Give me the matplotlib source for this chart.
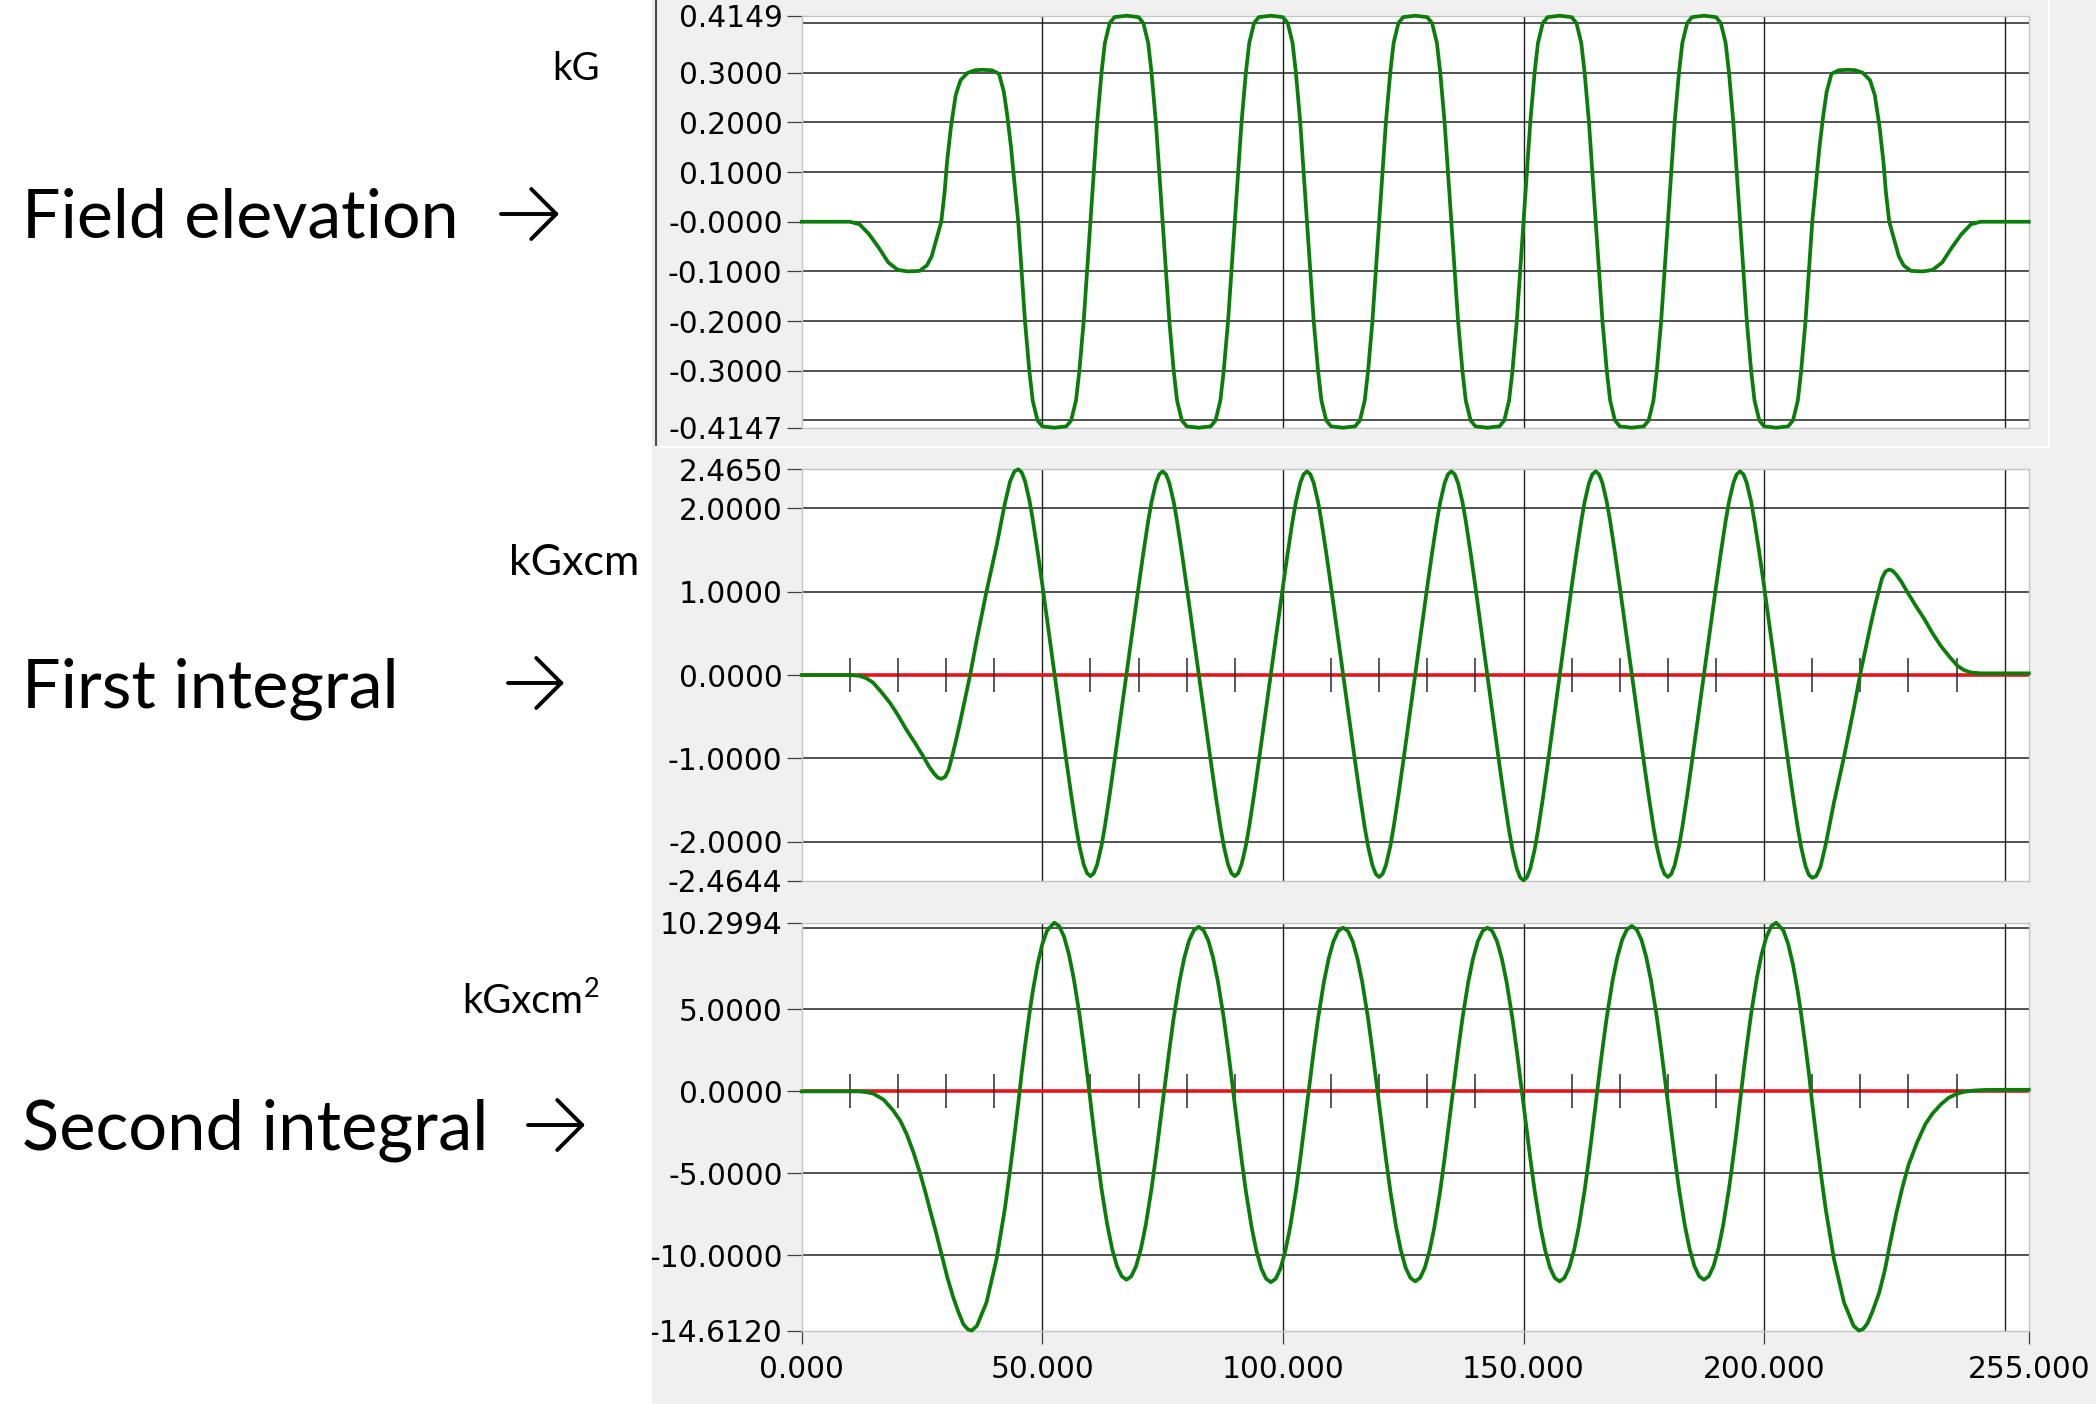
import matplotlib
matplotlib.use('Agg')
import numpy as np
import matplotlib.pyplot as plt
from matplotlib.patches import Rectangle, FancyArrowPatch
from matplotlib.lines import Line2D

# ---- data (x in cm) ----
# field elevation, kG
field_x = [
    0, 10, 12, 14, 16, 18, 20, 22, 24.5, 26, 27, 28,
    29, 29.7, 30.2, 31, 32, 33, 34.5, 36, 37.5, 39.5, 41, 42, 42.7, 43.5, 44.2,
    45, 45.7, 46.4, 47.3, 48, 49, 50, 52.5, 55, 56, 57, 57.7, 58.6, 59.3,
    60, 60.7, 61.4, 62.3, 63, 64, 65, 67.5, 70, 71, 72, 72.7, 73.6, 74.3,
    75, 75.7, 76.4, 77.3, 78, 79, 80, 82.5, 85, 86, 87, 87.7, 88.6, 89.3,
    90, 90.7, 91.4, 92.3, 93, 94, 95, 97.5, 100, 101, 102, 102.7, 103.6, 104.3,
    105, 105.7, 106.4, 107.3, 108, 109, 110, 112.5, 115, 116, 117, 117.7, 118.6, 119.3,
    120, 120.7, 121.4, 122.3, 123, 124, 125, 127.5, 130, 131, 132, 132.7, 133.6, 134.3,
    135, 135.7, 136.4, 137.3, 138, 139, 140, 142.5, 145, 146, 147, 147.7, 148.6, 149.3,
    150, 150.7, 151.4, 152.3, 153, 154, 155, 157.5, 160, 161, 162, 162.7, 163.6, 164.3,
    165, 165.7, 166.4, 167.3, 168, 169, 170, 172.5, 175, 176, 177, 177.7, 178.6, 179.3,
    180, 180.7, 181.4, 182.3, 183, 184, 185, 187.5, 190, 191, 192, 192.7, 193.6, 194.3,
    195, 195.7, 196.4, 197.3, 198, 199, 200, 202.5, 205, 206, 207, 207.7, 208.6, 209.3,
    210, 210.8, 211.5, 212.3, 213, 214, 215.5, 217.5, 219, 220.5, 222, 223, 224, 224.8, 225.3,
    226, 227, 228, 229, 230.5, 233, 235, 237, 239, 241, 243, 245, 255]
field_kg = [
    0, 0, -0.005, -0.025, -0.052, -0.082, -0.097, -0.1, -0.099, -0.088, -0.07, -0.035,
    0, 0.06, 0.12, 0.19, 0.255, 0.285, 0.3, 0.305, 0.306, 0.305, 0.298, 0.262, 0.215, 0.15, 0.08,
    0, -0.1, -0.2, -0.3, -0.36, -0.4, -0.412, -0.4147, -0.412, -0.4, -0.36, -0.3, -0.2, -0.1,
    0, 0.1, 0.2, 0.3, 0.36, 0.4, 0.412, 0.4149, 0.412, 0.4, 0.36, 0.3, 0.2, 0.1,
    0, -0.1, -0.2, -0.3, -0.36, -0.4, -0.412, -0.4147, -0.412, -0.4, -0.36, -0.3, -0.2, -0.1,
    0, 0.1, 0.2, 0.3, 0.36, 0.4, 0.412, 0.4149, 0.412, 0.4, 0.36, 0.3, 0.2, 0.1,
    0, -0.1, -0.2, -0.3, -0.36, -0.4, -0.412, -0.4147, -0.412, -0.4, -0.36, -0.3, -0.2, -0.1,
    0, 0.1, 0.2, 0.3, 0.36, 0.4, 0.412, 0.4149, 0.412, 0.4, 0.36, 0.3, 0.2, 0.1,
    0, -0.1, -0.2, -0.3, -0.36, -0.4, -0.412, -0.4147, -0.412, -0.4, -0.36, -0.3, -0.2, -0.1,
    0, 0.1, 0.2, 0.3, 0.36, 0.4, 0.412, 0.4149, 0.412, 0.4, 0.36, 0.3, 0.2, 0.1,
    0, -0.1, -0.2, -0.3, -0.36, -0.4, -0.412, -0.4147, -0.412, -0.4, -0.36, -0.3, -0.2, -0.1,
    0, 0.1, 0.2, 0.3, 0.36, 0.4, 0.412, 0.4149, 0.412, 0.4, 0.36, 0.3, 0.2, 0.1,
    0, -0.1, -0.2, -0.3, -0.36, -0.4, -0.412, -0.4147, -0.412, -0.4, -0.36, -0.3, -0.2, -0.1,
    0, 0.08, 0.15, 0.215, 0.262, 0.298, 0.305, 0.306, 0.305, 0.3, 0.285, 0.255, 0.19, 0.12, 0.06,
    0, -0.035, -0.07, -0.088, -0.099, -0.1, -0.097, -0.082, -0.052, -0.025, -0.005, 0, 0]

# first integral, kG x cm
int1_x = [
    0, 10, 12, 13.5, 14.8, 16.5, 18.3, 20, 21.7, 23.5, 25.2, 26.5, 27.5, 28.3,
    29, 29.8, 30.5, 31.1, 32, 32.9, 34, 35, 36.4, 38.4, 40.5, 42.2, 43.3, 44.2,
    45, 45.7, 46.4, 47.3, 48, 49, 50, 52.5, 55, 56, 57, 57.7, 58.6, 59.3,
    60, 60.7, 61.4, 62.3, 63, 64, 65, 67.5, 70, 71, 72, 72.7, 73.6, 74.3,
    75, 75.7, 76.4, 77.3, 78, 79, 80, 82.5, 85, 86, 87, 87.7, 88.6, 89.3,
    90, 90.7, 91.4, 92.3, 93, 94, 95, 97.5, 100, 101, 102, 102.7, 103.6, 104.3,
    105, 105.7, 106.4, 107.3, 108, 109, 110, 112.5, 115, 116, 117, 117.7, 118.6, 119.3,
    120, 120.7, 121.4, 122.3, 123, 124, 125, 127.5, 130, 131, 132, 132.7, 133.6, 134.3,
    135, 135.7, 136.4, 137.3, 138, 139, 140, 142.5, 145, 146, 147, 147.7, 148.6, 149.3,
    150, 150.7, 151.4, 152.3, 153, 154, 155, 157.5, 160, 161, 162, 162.7, 163.6, 164.3,
    165, 165.7, 166.4, 167.3, 168, 169, 170, 172.5, 175, 176, 177, 177.7, 178.6, 179.3,
    180, 180.7, 181.4, 182.3, 183, 184, 185, 187.5, 190, 191, 192, 192.7, 193.6, 194.3,
    195, 195.7, 196.4, 197.3, 198, 199, 200, 202.5, 205, 206, 207, 207.7, 208.6, 209.3,
    210, 210.8, 211.7, 212.8, 214.5, 216.6, 218.6, 220, 221, 222.1, 223, 223.9, 224.5, 225.2,
    226, 226.7, 227.5, 228.5, 229.8, 231.5, 233.3, 235, 236.7, 238.5, 240.2, 241.5, 243, 245, 255]
int1_kgcm = [
    0, 0, -0.01, -0.04, -0.09, -0.2, -0.33, -0.48, -0.65, -0.81, -0.97, -1.1, -1.18, -1.23,
    -1.244, -1.22, -1.14, -1.01, -0.8, -0.57, -0.27, 0.0, 0.43, 1.0, 1.55, 2.05, 2.32, 2.44,
    2.465, 2.43, 2.325, 2.1, 1.869, 1.489, 1.083, 0.028, -1.028, -1.434, -1.814, -2.045, -2.27, -2.375,
    -2.41, -2.375, -2.27, -2.045, -1.814, -1.434, -1.028, 0.015, 1.058, 1.464, 1.844, 2.075, 2.3, 2.405,
    2.44, 2.405, 2.3, 2.075, 1.844, 1.464, 1.058, 0.015, -1.028, -1.434, -1.814, -2.045, -2.27, -2.375,
    -2.41, -2.375, -2.27, -2.045, -1.814, -1.434, -1.028, 0.015, 1.058, 1.464, 1.844, 2.075, 2.3, 2.405,
    2.44, 2.405, 2.3, 2.075, 1.844, 1.464, 1.058, 0.01, -1.038, -1.444, -1.824, -2.055, -2.28, -2.385,
    -2.42, -2.385, -2.28, -2.055, -1.824, -1.444, -1.038, 0.01, 1.058, 1.464, 1.844, 2.075, 2.3, 2.405,
    2.44, 2.405, 2.3, 2.075, 1.844, 1.464, 1.058, -0.01, -1.078, -1.484, -1.864, -2.095, -2.32, -2.425,
    -2.46, -2.425, -2.32, -2.095, -1.864, -1.484, -1.078, -0.01, 1.058, 1.464, 1.844, 2.075, 2.3, 2.405,
    2.44, 2.405, 2.3, 2.075, 1.844, 1.464, 1.058, 0.01, -1.038, -1.444, -1.824, -2.055, -2.28, -2.385,
    -2.42, -2.385, -2.28, -2.055, -1.824, -1.444, -1.038, 0.01, 1.058, 1.464, 1.844, 2.075, 2.3, 2.405,
    2.44, 2.405, 2.3, 2.075, 1.844, 1.464, 1.058, 0.005, -1.048, -1.454, -1.834, -2.065, -2.29, -2.395,
    -2.43, -2.41, -2.3, -2.03, -1.53, -0.98, -0.41, 0.02, 0.29, 0.59, 0.82, 1.03, 1.16, 1.24,
    1.264, 1.25, 1.2, 1.12, 0.99, 0.83, 0.67, 0.5, 0.35, 0.22, 0.11, 0.06, 0.03, 0.02, 0.02]

# second integral, kG x cm^2
int2_x = [
    0, 12, 13.5, 14.9, 17, 19, 20.5, 21.8, 23.2, 24.6, 25.7, 26.7, 27.9, 29.1, 30.3, 31.5, 32.6, 33.6, 34.5,
    35.3, 36.4, 38.4, 40.5, 42.2, 43.3, 44.2, 45, 45.7, 46.4, 47.3, 48, 49, 50, 51,
    52.5, 53.5, 54.5, 55.5, 56.5, 57.7, 58.6, 59.3, 60, 60.7, 61.4, 62.3, 63.5, 64.5, 65.5, 66.5,
    67.5, 68.5, 69.5, 70.5, 71.5, 72.7, 73.6, 74.3, 75, 75.7, 76.4, 77.3, 78.5, 79.5, 80.5, 81.5,
    82.5, 83.5, 84.5, 85.5, 86.5, 87.7, 88.6, 89.3, 90, 90.7, 91.4, 92.3, 93.5, 94.5, 95.5, 96.5,
    97.5, 98.5, 99.5, 100.5, 101.5, 102.7, 103.6, 104.3, 105, 105.7, 106.4, 107.3, 108.5, 109.5, 110.5, 111.5,
    112.5, 113.5, 114.5, 115.5, 116.5, 117.7, 118.6, 119.3, 120, 120.7, 121.4, 122.3, 123.5, 124.5, 125.5, 126.5,
    127.5, 128.5, 129.5, 130.5, 131.5, 132.7, 133.6, 134.3, 135, 135.7, 136.4, 137.3, 138.5, 139.5, 140.5, 141.5,
    142.5, 143.5, 144.5, 145.5, 146.5, 147.7, 148.6, 149.3, 150, 150.7, 151.4, 152.3, 153.5, 154.5, 155.5, 156.5,
    157.5, 158.5, 159.5, 160.5, 161.5, 162.7, 163.6, 164.3, 165, 165.7, 166.4, 167.3, 168.5, 169.5, 170.5, 171.5,
    172.5, 173.5, 174.5, 175.5, 176.5, 177.7, 178.6, 179.3, 180, 180.7, 181.4, 182.3, 183.5, 184.5, 185.5, 186.5,
    187.5, 188.5, 189.5, 190.5, 191.5, 192.7, 193.6, 194.3, 195, 195.7, 196.4, 197.3, 198.5, 199.5, 200.5, 201.5,
    202.5, 204, 205, 206, 207, 207.7, 208.6, 209.3, 210, 210.8, 211.7, 212.8, 214.5, 216.6, 218.6,
    219.7, 220.6, 221.5, 222.5, 223.9, 225.1, 226.3, 227.5, 228.7, 230, 231.8, 233.5, 235, 236.7, 238.3,
    240, 241.5, 243.5, 246, 255]
int2_kgcm2 = [
    0, 0, -0.05, -0.14, -0.5, -1.16, -1.8, -2.6, -3.7, -5.0, -6.15, -7.28, -8.6, -10.0, -11.4, -12.59, -13.5, -14.22, -14.52,
    -14.61, -14.32, -12.89, -10.22, -7.2, -4.82, -2.7, -0.75, 1.1, 2.75, 4.7, 6.08, 7.74, 8.99, 9.83,
    10.3, 10.09, 9.46, 8.4, 6.95, 4.74, 2.78, 1.15, -0.6, -2.35, -3.98, -5.94, -8.15, -9.6, -10.66, -11.29,
    -11.5, -11.29, -10.66, -9.6, -8.15, -5.94, -3.98, -2.35, -0.725, 0.9, 2.53, 4.49, 6.7, 8.15, 9.21, 9.84,
    10.05, 9.84, 9.21, 8.15, 6.7, 4.49, 2.53, 0.9, -0.8, -2.5, -4.13, -6.09, -8.3, -9.75, -10.81, -11.44,
    -11.65, -11.44, -10.81, -9.75, -8.3, -6.09, -4.13, -2.5, -0.825, 0.85, 2.48, 4.44, 6.65, 8.1, 9.16, 9.79,
    10.0, 9.79, 9.16, 8.1, 6.65, 4.44, 2.48, 0.85, -0.8, -2.45, -4.08, -6.04, -8.25, -9.7, -10.76, -11.39,
    -11.6, -11.39, -10.76, -9.7, -8.25, -6.04, -4.08, -2.45, -0.8, 0.85, 2.48, 4.44, 6.65, 8.1, 9.16, 9.79,
    10.0, 9.79, 9.16, 8.1, 6.65, 4.44, 2.48, 0.85, -0.8, -2.45, -4.08, -6.04, -8.25, -9.7, -10.76, -11.39,
    -11.6, -11.39, -10.76, -9.7, -8.25, -6.04, -4.08, -2.45, -0.75, 0.95, 2.58, 4.54, 6.75, 8.2, 9.26, 9.89,
    10.1, 9.89, 9.26, 8.2, 6.75, 4.54, 2.58, 0.95, -0.7, -2.35, -3.98, -5.94, -8.15, -9.6, -10.66, -11.29,
    -11.5, -11.29, -10.66, -9.6, -8.15, -5.94, -3.98, -2.35, -0.6, 1.15, 2.78, 4.74, 6.95, 8.4, 9.46, 10.09,
    10.3, 9.83, 8.99, 7.74, 6.08, 4.7, 2.75, 1.1, -0.75, -2.7, -4.82, -7.2, -10.22, -12.89, -14.32,
    -14.61, -14.5, -14.15, -13.45, -12.3, -10.9, -9.1, -7.4, -5.9, -4.5, -3.1, -2.0, -1.35, -0.8, -0.4,
    -0.15, -0.03, 0.05, 0.09, 0.1]

# axis ticks / labels as shown by the program
top_ticks = [0.4149, 0.3, 0.2, 0.1, 0.0, -0.1, -0.2, -0.3, -0.4147]
top_labels = ['0.4149', '0.3000', '0.2000', '0.1000', '-0.0000', '-0.1000', '-0.2000', '-0.3000', '-0.4147']
top_grid = [0.4, 0.3, 0.2, 0.1, 0.0, -0.1, -0.2, -0.3, -0.4]
mid_ticks = [2.465, 2.0, 1.0, 0.0, -1.0, -2.0, -2.4644]
mid_labels = ['2.4650', '2.0000', '1.0000', '0.0000', '-1.0000', '-2.0000', '-2.4644']
mid_grid = [2.0, 1.0, 0.0, -1.0, -2.0]
bot_ticks = [10.2994, 5.0, 0.0, -5.0, -10.0, -14.612]
bot_labels = ['10.2994', '5.0000', '0.0000', '-5.0000', '-10.0000', '-14.6120']
bot_grid = [10.0, 5.0, 0.0, -5.0, -10.0]
x_ticks = [0, 50, 100, 150, 200, 255]
x_labels = ['0.000', '50.000', '100.000', '150.000', '200.000', '255.000']
x_grid = [50, 100, 150, 200, 250]
zero_marks = [10, 20, 30, 40, 60, 70, 80, 90, 110, 120, 130, 140,
              160, 170, 180, 190, 210, 220, 230, 240]

GREEN = '#0b7d0b'
RED = '#e8141c'
TICK_FONT = 'DejaVu Sans'
W, H = 2096, 1404
AX_L, AX_R = 801.7, 2028.8

fig = plt.figure(figsize=(W / 100, H / 100), dpi=100)
fig.patch.set_facecolor('white')

# grey window background behind the plots
fig.add_artist(Rectangle((652 / W, 0), 1 - 652 / W, 1, transform=fig.transFigure,
                         facecolor='#f0f0f0', edgecolor='none', zorder=-10))


def make_axes(y_top, y_bot, ylim, ticks, labels, grid):
    ax = fig.add_axes([AX_L / W, 1 - y_bot / H, (AX_R - AX_L) / W, (y_bot - y_top) / H])
    ax.set_xlim(0, 255)
    ax.set_ylim(*ylim)
    for sp in ax.spines.values():
        sp.set_color('#c4c4c4')
        sp.set_linewidth(1.0)
    ax.set_yticks(ticks)
    ax.set_yticklabels(labels, fontsize=21.3, family=TICK_FONT, color='black')
    ax.tick_params(axis='y', direction='out', length=10.8, width=0.9, color='#404040', pad=3)
    ax.tick_params(axis='x', length=0, labelbottom=False)
    for g in grid:
        ax.axhline(g, color='#333333', lw=1.2, zorder=1)
    for g in x_grid:
        ax.axvline(g, color='#1e1e1e', lw=1.0, zorder=1)
    return ax


ax1 = make_axes(15.7, 427.7, (-0.4147, 0.4149), top_ticks, top_labels, top_grid)
ax2 = make_axes(469.3, 880.7, (-2.4644, 2.4650), mid_ticks, mid_labels, mid_grid)
ax3 = make_axes(922.7, 1330.7, (-14.612, 10.2994), bot_ticks, bot_labels, bot_grid)

ax1.plot(field_x, field_kg, color=GREEN, lw=2.7, zorder=4, clip_on=False,
         solid_joinstyle='round')

for ax, xs, ys in [(ax2, int1_x, int1_kgcm), (ax3, int2_x, int2_kgcm2)]:
    ax.axhline(0, color=RED, lw=2.6, zorder=2)
    ax.plot(zero_marks, np.zeros(len(zero_marks)), ls='none', marker='|',
            ms=25, mew=1.1, color='#2a2a2a', zorder=3)
    ax.plot(xs, ys, color=GREEN, lw=2.7, zorder=4, clip_on=False, solid_joinstyle='round')

ax3.set_xticks(x_ticks)
ax3.set_xticklabels(x_labels, fontsize=21.3, family=TICK_FONT, color='black')
ax3.tick_params(axis='x', length=9.5, width=0.9, color='#404040', pad=8, labelbottom=True)

# white page on the left (also cuts the leading '-' of the long labels like the screenshot)
fig.add_artist(Rectangle((0, 0), 652 / W, 1, transform=fig.transFigure,
                         facecolor='white', edgecolor='none', zorder=5))
fig.add_artist(Line2D([656 / W, 656 / W], [1, 1 - 445 / H], transform=fig.transFigure,
                      color='#4a4a4a', lw=1.5, zorder=6))
fig.add_artist(Line2D([656 / W, 2049 / W], [1 - 447 / H, 1 - 447 / H], transform=fig.transFigure,
                      color='white', lw=1.5, zorder=6))
fig.add_artist(Line2D([2049 / W, 2049 / W], [1, 1 - 447 / H], transform=fig.transFigure,
                      color='white', lw=1.5, zorder=6))

renderer = fig.canvas.get_renderer()


def fit_text(x, y, s, width_px, size):
    t = fig.text(x / W, 1 - y / H, s, fontsize=size, family=['Lato', 'DejaVu Sans'],
                 ha='left', va='baseline', color='black', zorder=7)
    w = t.get_window_extent(renderer=renderer).width
    t.set_fontsize(size * width_px / w)
    return t


fit_text(22, 238, 'Field elevation', 436, 46)
fit_text(22, 707, 'First integral', 377, 46)
fit_text(22, 1150, 'Second integral', 466, 46)
fit_text(552, 80, 'kG', 47.5, 30)
fit_text(509, 575, 'kGxcm', 130, 30)
unit3 = fit_text(462, 1013, 'kGxcm', 121, 30)
# superscript 2 drawn as its own smaller text, raised to the ascender line
fig.text(584 / W, 1 - 997 / H, '2', fontsize=unit3.get_fontsize() * 0.68,
         family=['Lato', 'DejaVu Sans'], ha='left', va='baseline', color='black', zorder=7)

for x0, x1, yc in [(501, 559, 214), (508, 564, 683), (528, 585, 1125)]:
    fig.add_artist(FancyArrowPatch((x0 / W, 1 - yc / H), (x1 / W, 1 - yc / H),
                                   transform=fig.transFigure,
                                   arrowstyle='->,head_length=18,head_width=18',
                                   mutation_scale=1, lw=2.8, color='black',
                                   shrinkA=0, shrinkB=0, zorder=7))

fig.savefig('out.png', dpi=100)
